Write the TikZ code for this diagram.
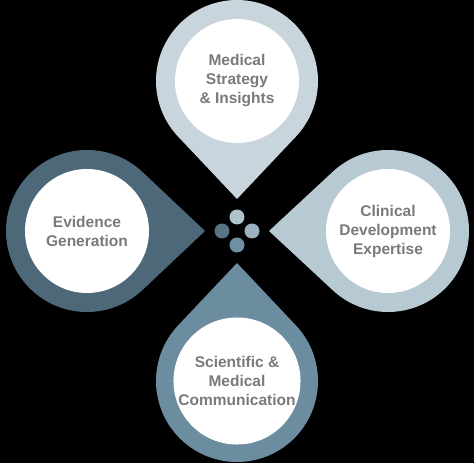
\documentclass[tikz,border=0pt]{standalone}
\usepackage{fontspec}
\setmainfont{Liberation Sans}
\usetikzlibrary{calc}

\definecolor{dropTop}{HTML}{C8D5DC}
\definecolor{dropRight}{HTML}{B7C9D2}
\definecolor{dropLeft}{HTML}{4D6878}
\definecolor{dropBottom}{HTML}{6C8CA0}
\definecolor{dotTop}{HTML}{AFC3CD}
\definecolor{dotRight}{HTML}{9CB3BF}
\definecolor{dotLeft}{HTML}{587382}
\definecolor{dotBottom}{HTML}{6F8FA3}
\definecolor{labelgray}{HTML}{7A7A7A}

\tikzset{
  pillar/.style={circle, fill=white, minimum size=124pt, inner sep=0pt,
    align=center, text=labelgray, font=\bfseries\fontsize{15.5}{19}\selectfont},
  knob/.style={circle, minimum size=15pt, inner sep=0pt},
}

\begin{document}
\begin{tikzpicture}[x=1pt, y=1pt]

  % ── Canvas ───────────────────────────────────────────────────
  \fill[black] (-237,-232) rectangle (237,231);
  \useasboundingbox (-237,-232) rectangle (237,231);

  % ── Anchor points: hub and the four drop centres ─────────────
  \coordinate (hub)     at (0,0);
  \coordinate (cTop)    at (0,150);
  \coordinate (cLeft)   at (-150,0);
  \coordinate (cRight)  at (151,0);
  \coordinate (cBottom) at (0,-150);

  % ── Drops (tip points to the hub) ────────────────────────────
  \foreach \name/\ang/\col in {Top/90/dropTop, Left/180/dropLeft,
                               Right/0/dropRight, Bottom/270/dropBottom}
    \fill[\col] ($(hub)+(\ang:32)$) -- ($(c\name)+(\ang+226.6:81)$)
      arc[start angle=\ang+226.6, delta angle=266.8, radius=81] -- cycle;

  % ── White pillars with labels ────────────────────────────────
  \node[pillar] (strategy)  at (cTop)    {Medical\\Strategy\\\& Insights};
  \node[pillar] (evidence)  at (cLeft)   {Evidence\\Generation};
  \node[pillar] (clinical)  at (cRight)  {Clinical\\Development\\Expertise};
  \node[pillar] (comms)     at (cBottom) {Scientific \&\\Medical\\Communication};

  % ── Hub dots ─────────────────────────────────────────────────
  \node[knob, fill=dotTop]    (kTop)    at ($(hub)+(0,14)$)  {};
  \node[knob, fill=dotLeft]   (kLeft)   at ($(hub)+(-15,0)$) {};
  \node[knob, fill=dotRight]  (kRight)  at ($(hub)+(15,0)$)  {};
  \node[knob, fill=dotBottom] (kBottom) at ($(hub)+(0,-14)$) {};

\end{tikzpicture}
\end{document}
